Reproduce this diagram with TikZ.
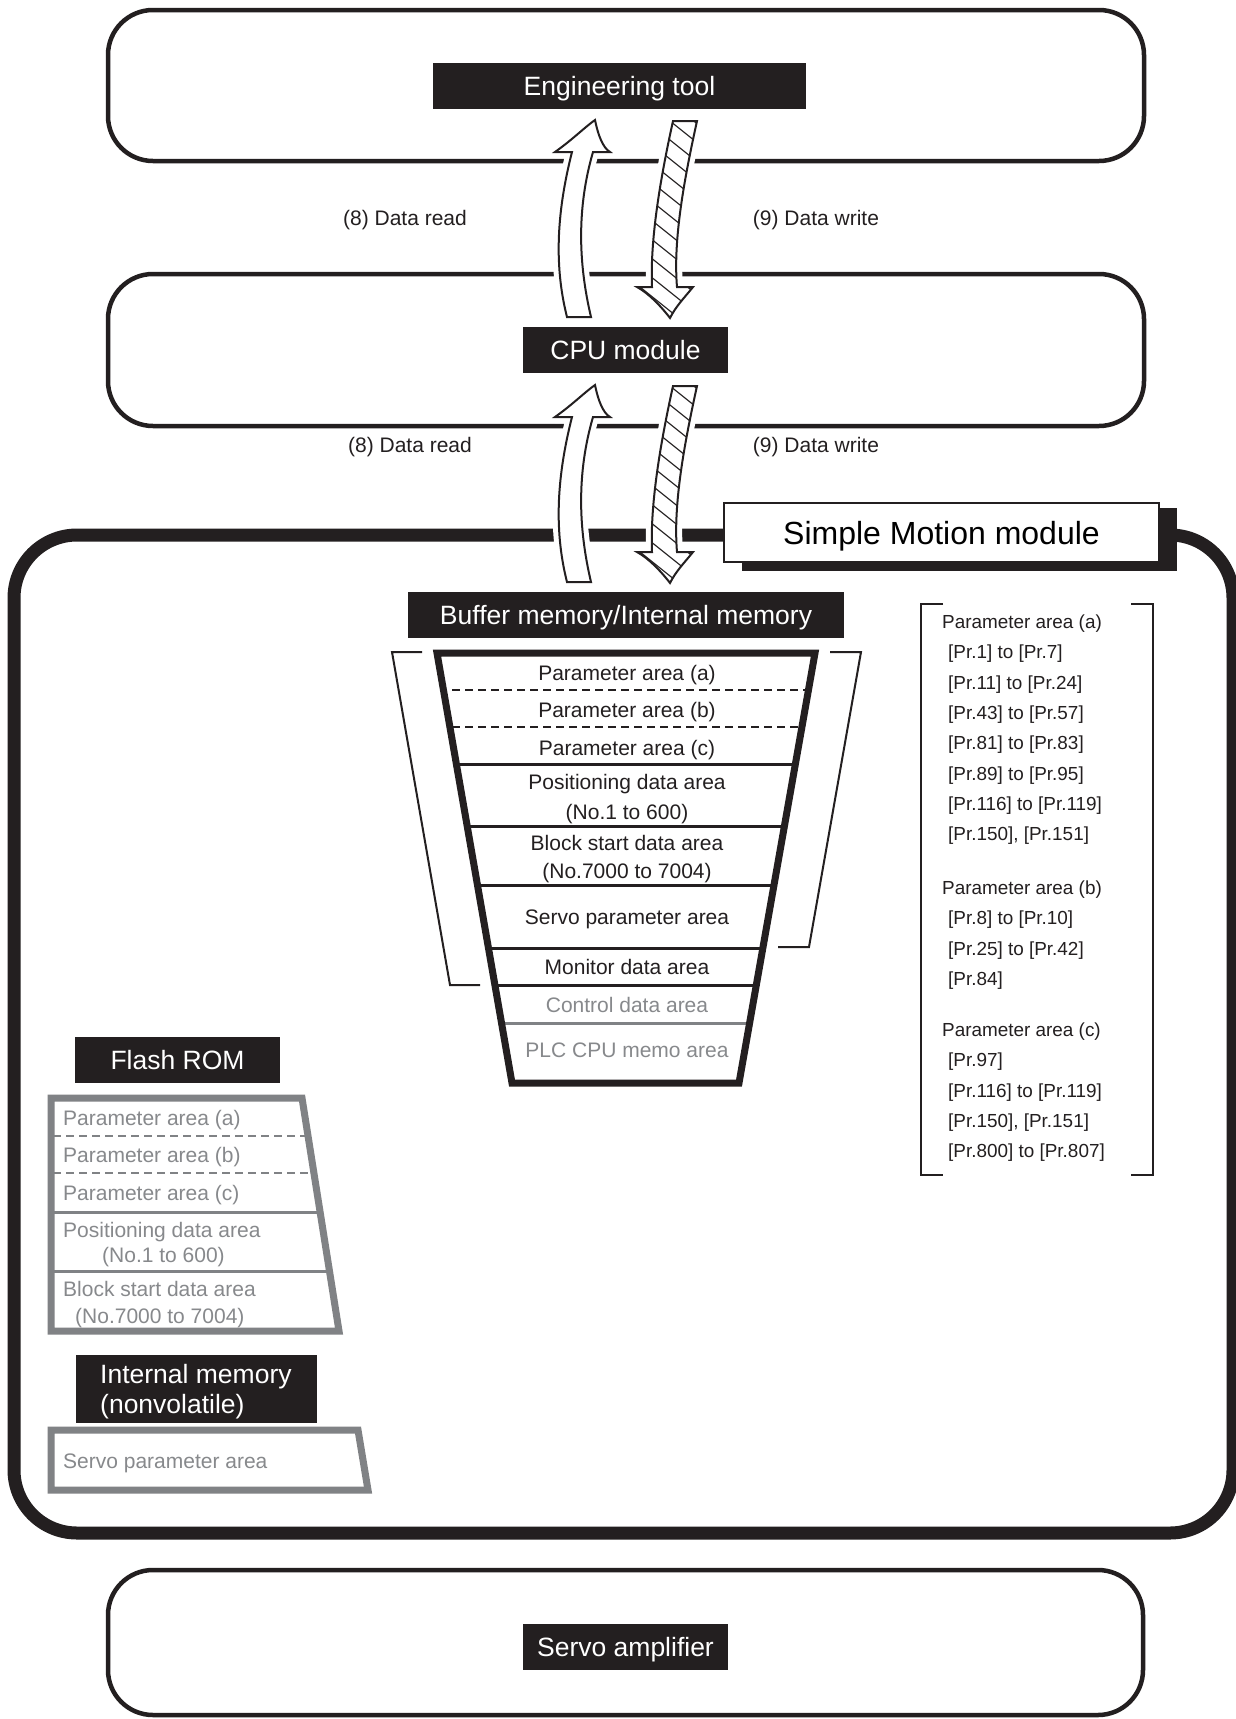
\documentclass[tikz,border=0pt]{standalone}
\usepackage{fontspec}
\setmainfont{Liberation Sans}
\definecolor{ink}{RGB}{35,31,32}
\definecolor{mute}{RGB}{128,130,133}
\definecolor{mutetext}{RGB}{135,137,140}

% outline of the curved "read" arrow (points up)
\newcommand\readarrowpath{(595,120) .. controls (598,135) and (603,148) .. (610,152) -- (593,152)
  .. controls (577,207) and (578,262) .. (591,317) -- (567,317)
  .. controls (553,262) and (558,207) .. (572,152) -- (555,152)
  .. controls (572,140) and (585,127) .. cycle}
% outline of the curved, hatched "write" arrow (points down)
\newcommand\writearrowpath{(673,121) -- (697,121) .. controls (684,180) and (673,240) .. (677,287)
  -- (693,287) .. controls (685,297) and (676,306) .. (670,318)
  .. controls (660,305) and (648,293) .. (637,287) -- (652,287)
  .. controls (650,240) and (660,180) .. cycle}

\newcommand\arrowpair{%
  \draw[white, line width=12pt, line join=round, fill=white] \readarrowpath;
  \draw[white, line width=12pt, line join=round, fill=white] \writearrowpath;
  \begin{scope}
    \clip \writearrowpath;
    \foreach \k in {-3,...,12}
      \draw[ink, line width=1.1pt] (620,100+19*\k) -- ++(100,80);
  \end{scope}
  \draw[ink, line width=2pt, line join=miter] \readarrowpath;
  \draw[ink, line width=2pt, line join=miter] \writearrowpath;
}

\begin{document}
\begin{tikzpicture}[x=1pt,y=-1pt,
  frame/.style={draw=ink, line width=4.5pt, rounded corners=45pt},
  tag/.style={fill=ink, text=white, inner sep=0pt, font=\fontsize{26.5}{30}\selectfont,
    text height=19pt, text depth=0pt},
  tagtext/.style={text=white, inner sep=0pt, anchor=west, font=\fontsize{26.5}{30}\selectfont,
    text height=19pt, text depth=0pt},
  lbl/.style={text=ink, inner sep=0pt, font=\fontsize{21}{25}\selectfont, text height=15pt, text depth=0pt},
  area/.style={lbl},
  dimarea/.style={lbl, text=mutetext},
  plist/.style={text=ink, inner sep=0pt, anchor=west, font=\fontsize{18.9}{22}\selectfont,
    text height=13.5pt, text depth=0pt},
  divider/.style={ink, line width=3pt},
  dashdiv/.style={ink, line width=2.5pt, dash pattern=on 8pt off 5pt},
  thin/.style={ink, line width=2pt},
]
\fill[white] (0,0) rectangle (1236,1719);
\useasboundingbox (0,0) rectangle (1236,1719);

% ---------- unit frames ----------
\draw[frame] (108,10) rectangle (1144,161);
\draw[frame] (108,274) rectangle (1144,426);
\draw[frame] (108,1570) rectangle (1143,1715);
\draw[ink, line width=13pt, rounded corners=63pt] (14,535) rectangle (1233,1533);

% ---------- data transfer arrows ----------
\arrowpair
\begin{scope}[shift={(0,265)}]
  \arrowpair
\end{scope}

% ---------- unit names ----------
\node[tag, minimum width=373pt, minimum height=46pt] (eng) at (619.5,86) {Engineering tool};
\node[tag, minimum width=205pt, minimum height=46pt] (cpu) at (625.5,350) {CPU module};
\node[tag, minimum width=205pt, minimum height=46pt] (amp) at (625.5,1647) {Servo amplifier};

\fill[ink] (742,508) rectangle (1177,571);
\node[draw=ink, fill=white, line width=2pt, minimum width=435pt, minimum height=59pt, inner sep=0pt,
  font=\fontsize{32}{36}\selectfont, text height=23pt, text depth=0pt] (smm) at (941.5,532.5) {Simple Motion module};

\node[lbl] (rd1) at (405,218) {(8) Data read};
\node[lbl] (wr1) at (816,218) {(9) Data write};
\node[lbl] (rd2) at (410,445) {(8) Data read};
\node[lbl] (wr2) at (816,445) {(9) Data write};

% ---------- buffer memory ----------
\node[tag, minimum width=436pt, minimum height=46pt] (buf) at (626,615) {Buffer memory/Internal memory};
\begin{scope}
  \clip (437,653) -- (815,653) -- (739,1083) -- (512,1083) -- cycle;
  \draw[dashdiv] (400,690) -- (850,690) (400,727) -- (850,727);
  \draw[divider] (400,764) -- (850,764) (400,826) -- (850,826) (400,885) -- (850,885)
                 (400,948) -- (850,948) (400,985) -- (850,985);
  \draw[mute, line width=3pt] (400,1023) -- (850,1023);
\end{scope}
\draw[ink, line width=7pt, line join=miter] (437,653) -- (815,653) -- (739,1083) -- (512,1083) -- cycle;

\node[area] (ba) at (627,673) {Parameter area (a)};
\node[area] (bb) at (627,710) {Parameter area (b)};
\node[area] (bc) at (627,748) {Parameter area (c)};
\node[area] (bp1) at (627,782) {Positioning data area};
\node[area] (bp2) at (627,812) {(No.1 to 600)};
\node[area] (bs1) at (627,843) {Block start data area};
\node[area] (bs2) at (627,871) {(No.7000 to 7004)};
\node[area] (bsv) at (627,917) {Servo parameter area};
\node[area] (bmo) at (627,967) {Monitor data area};
\node[dimarea] (bco) at (627,1005) {Control data area};
\node[dimarea] (bme) at (627,1050) {PLC CPU memo area};

% brackets beside the buffer memory
\draw[thin] (422,652) -- (392,652) -- (450,985) -- (480,985);
\draw[thin] (830,652) -- (861,652) -- (809,947) -- (778,947);

% ---------- parameter list ----------
\draw[ink, line width=2.5pt] (943,604) -- (921,604) -- (921,1175) -- (943,1175);
\draw[ink, line width=2.5pt] (1131,604) -- (1153,604) -- (1153,1175) -- (1131,1175);
\node[plist] (la)  at (942,622)   {Parameter area (a)};
\node[plist] (la1) at (948,652)   {[Pr.1] to [Pr.7]};
\node[plist] (la2) at (948,682.5) {[Pr.11] to [Pr.24]};
\node[plist] (la3) at (948,713)   {[Pr.43] to [Pr.57]};
\node[plist] (la4) at (948,743)   {[Pr.81] to [Pr.83]};
\node[plist] (la5) at (948,773.5) {[Pr.89] to [Pr.95]};
\node[plist] (la6) at (948,804)   {[Pr.116] to [Pr.119]};
\node[plist] (la7) at (948,834)   {[Pr.150], [Pr.151]};
\node[plist] (lb)  at (942,887.5) {Parameter area (b)};
\node[plist] (lb1) at (948,918)   {[Pr.8] to [Pr.10]};
\node[plist] (lb2) at (948,948.5) {[Pr.25] to [Pr.42]};
\node[plist] (lb3) at (948,979)   {[Pr.84]};
\node[plist] (lc)  at (942,1030)  {Parameter area (c)};
\node[plist] (lc1) at (948,1060)  {[Pr.97]};
\node[plist] (lc2) at (948,1090.5){[Pr.116] to [Pr.119]};
\node[plist] (lc3) at (948,1121)  {[Pr.150], [Pr.151]};
\node[plist] (lc4) at (948,1151)  {[Pr.800] to [Pr.807]};

% ---------- flash ROM ----------
\node[tag, minimum width=205pt, minimum height=46pt] (rom) at (177.5,1060) {Flash ROM};
\begin{scope}
  \clip (51,1098) -- (302,1098) -- (339,1331) -- (51,1331) -- cycle;
  \draw[mute, line width=2.5pt, dash pattern=on 8pt off 5pt] (40,1136) -- (350,1136) (40,1173) -- (350,1173);
  \draw[mute, line width=3pt] (40,1212) -- (350,1212) (40,1271) -- (350,1271);
\end{scope}
\draw[mute, line width=7pt, line join=miter] (51,1098) -- (302,1098) -- (339,1331) -- (51,1331) -- cycle;
\node[dimarea, anchor=west] (fa) at (63,1118) {Parameter area (a)};
\node[dimarea, anchor=west] (fb) at (63,1155) {Parameter area (b)};
\node[dimarea, anchor=west] (fc) at (63,1192.5) {Parameter area (c)};
\node[dimarea, anchor=west] (fp1) at (63,1230) {Positioning data area};
\node[dimarea, anchor=west] (fp2) at (102,1255) {(No.1 to 600)};
\node[dimarea, anchor=west] (fs1) at (63,1289) {Block start data area};
\node[dimarea, anchor=west] (fs2) at (75,1316) {(No.7000 to 7004)};

% ---------- internal memory (nonvolatile) ----------
\node[fill=ink, inner sep=0pt, minimum width=241pt, minimum height=68pt] (nvm) at (196.5,1389) {};
\node[tagtext] (nvm1) at (100,1374) {Internal memory};
\node[tagtext] (nvm2) at (100,1404) {(nonvolatile)};
\draw[mute, line width=7pt, line join=miter] (51,1430) -- (358,1430) -- (368,1490) -- (51,1490) -- cycle;
\node[dimarea, anchor=west] (nsv) at (63,1461) {Servo parameter area};

\end{tikzpicture}
\end{document}
